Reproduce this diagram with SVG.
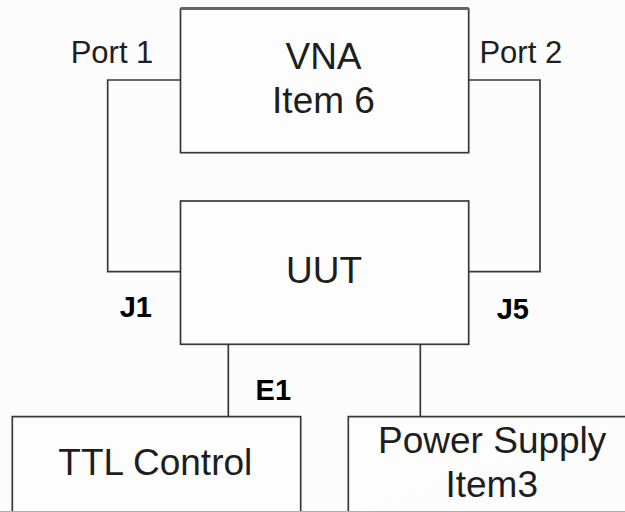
<svg xmlns="http://www.w3.org/2000/svg" width="625" height="512" viewBox="0 0 625 512">
<style>
.box{fill:#fdfdfd;stroke:#383838;stroke-width:1.7}
.wire{fill:none;stroke:#383838;stroke-width:1.7}
.t{font-family:"Liberation Sans",Arial,sans-serif;fill:#1e1e1e;text-anchor:middle}
.b{font-family:"Liberation Sans",Arial,sans-serif;font-weight:bold;fill:#000;text-anchor:middle;font-size:29px}
</style>
<rect x="0" y="0" width="625" height="512" fill="#fcfcfc"/>
<g id="connectors">
<polyline class="wire" points="180.5,80 107.7,80 107.7,271.7 180.5,271.7"/>
<polyline class="wire" points="468.7,80 540,80 540,271.7 468.7,271.7"/>
<line class="wire" x1="228.3" y1="344.3" x2="228.3" y2="416.7"/>
<line class="wire" x1="420.3" y1="344.3" x2="420.3" y2="416.7"/>
</g>
<g id="vna">
<rect class="box" x="180.5" y="9" width="288.2" height="143.7"/>
<line x1="180.5" y1="8.5" x2="468.7" y2="8.5" stroke="#666" stroke-width="3"/>
<text class="t" x="323.5" y="69" font-size="37">VNA</text>
<text class="t" x="323.5" y="113.3" font-size="37">Item 6</text>
</g>
<g id="port1"><text class="t" x="112" y="63.3" font-size="31">Port 1</text></g>
<g id="port2"><text class="t" x="520.8" y="63.3" font-size="31">Port 2</text></g>
<g id="uut">
<rect class="box" x="180.5" y="201" width="288.2" height="143.3"/>
<text class="t" x="324" y="283.3" font-size="37">UUT</text>
</g>
<g id="j1"><text class="b" x="135.8" y="317.3">J1</text></g>
<g id="j5"><text class="b" x="512.8" y="319.3">J5</text></g>
<g id="e1"><text class="b" x="273.3" y="400">E1</text></g>
<g id="ttl">
<path class="wire" d="M12.3,514 L12.3,416.7 L300.7,416.7 L300.7,514" style="fill:#fdfdfd"/>
<text class="t" x="155.3" y="475" font-size="37">TTL Control</text>
</g>
<g id="power">
<path class="wire" d="M348.3,514 L348.3,416.7 L626,416.7" style="fill:#fdfdfd"/>
<text class="t" x="492.2" y="452.7" font-size="37">Power Supply</text>
<text class="t" x="491.7" y="496.7" font-size="37">Item3</text>
</g>
<line x1="0" y1="511.5" x2="625" y2="511.5" stroke="#b0b0b0" stroke-width="1"/>
</svg>
